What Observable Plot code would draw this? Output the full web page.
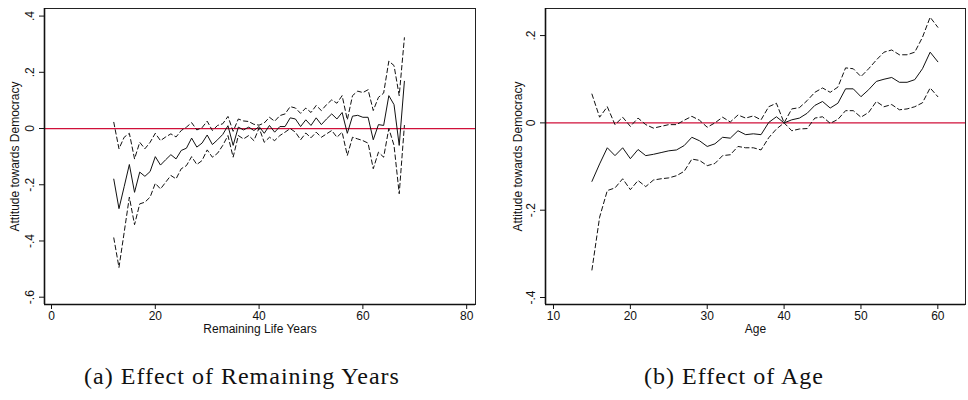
<!DOCTYPE html>
<html>
<head>
<meta charset="utf-8">
<script src="https://cdn.jsdelivr.net/npm/d3@7"></script>
<script src="https://cdn.jsdelivr.net/npm/@observablehq/plot@0.6"></script>
<style>
  html, body { margin: 0; padding: 0; background: #fff; }
  #root { position: relative; width: 968px; height: 400px; overflow: hidden; background: #fff; }
  .panel { position: absolute; top: 0; }
  .cap { position: absolute; top: 363px; font-family: "Liberation Serif", "DejaVu Serif", serif; font-size: 24px; letter-spacing: 1px; color: #111; white-space: nowrap; transform: translateX(-50%); }
</style>
</head>
<body>
<div id="root">
  <div id="left" class="panel" style="left:0px"></div>
  <div id="right" class="panel" style="left:484px"></div>
  <div class="cap" id="capA" style="left:242px"></div>
  <div class="cap" id="capB" style="left:734px"></div>
</div>
<script>
// ---------- Panel (a): Remaining life years ----------
const remYears = [12,13,14,15,16,17,18,19,20,21,22,23,24,25,26,27,28,29,30,31,32,33,34,35,36,37,38,39,40,41,42,43,44,45,46,47,48,49,50,51,52,53,54,55,56,57,58,59,60,61,62,63,64,65,66,67,68];
const remMean = [-0.18,-0.285,-0.207,-0.128,-0.227,-0.155,-0.17,-0.153,-0.10,-0.13,-0.111,-0.093,-0.108,-0.078,-0.07,-0.034,-0.066,-0.052,-0.023,-0.057,-0.04,-0.021,0.01,-0.06,0.005,-0.005,0.005,-0.007,0.007,-0.017,0.011,-0.013,0.007,0.007,0.038,0.034,0.007,0.031,0.011,0.038,0.014,0.034,0.052,0.034,0.057,-0.017,0.044,0.047,0.04,0.04,-0.04,0.014,0.011,0.117,0.085,-0.06,0.168];
const remUpper = [0.022,-0.072,-0.031,-0.017,-0.108,-0.049,-0.072,-0.049,-0.017,-0.043,-0.03,-0.019,-0.03,-0.007,0.005,0.021,-0.005,0.003,0.026,-0.007,0.011,0.017,0.043,-0.01,0.034,0.027,0.025,0.015,0.012,0.02,0.04,0.026,0.046,0.052,0.078,0.073,0.054,0.073,0.057,0.082,0.064,0.085,0.102,0.09,0.117,0.031,0.117,0.133,0.128,0.138,0.064,0.111,0.126,0.24,0.224,0.117,0.323];
const remLower = [-0.389,-0.494,-0.37,-0.244,-0.342,-0.268,-0.262,-0.244,-0.195,-0.215,-0.191,-0.167,-0.179,-0.143,-0.132,-0.1,-0.128,-0.114,-0.076,-0.102,-0.088,-0.06,-0.025,-0.102,-0.025,-0.037,-0.025,-0.043,0.002,-0.049,-0.031,-0.043,-0.025,-0.013,0.0,-0.013,-0.04,-0.016,-0.033,-0.013,-0.031,-0.019,-0.007,-0.031,-0.013,-0.096,-0.031,-0.037,-0.043,-0.052,-0.143,-0.084,-0.102,0.0,-0.06,-0.232,0.011];
const remXTicks = [0,20,40,60,80];
const remYTicks = [-0.6,-0.4,-0.2,0,0.2,0.4];
const remYTickLabels = ["-.6","-.4","-.2","0",".2",".4"];

// ---------- Panel (b): Age ----------
const ages = [15,16,17,18,19,20,21,22,23,24,25,26,27,28,29,30,31,32,33,34,35,36,37,38,39,40,41,42,43,44,45,46,47,48,49,50,51,52,53,54,55,56,57,58,59,60];
const ageMean = [-0.134,-0.094,-0.057,-0.075,-0.057,-0.082,-0.061,-0.075,-0.072,-0.068,-0.064,-0.062,-0.052,-0.033,-0.041,-0.054,-0.048,-0.033,-0.035,-0.018,-0.027,-0.025,-0.027,0.001,0.014,0.0,0.007,0.011,0.022,0.04,0.049,0.034,0.045,0.078,0.078,0.06,0.076,0.095,0.1,0.104,0.093,0.093,0.099,0.124,0.162,0.14];
const ageUpper = [0.066,0.013,0.037,-0.004,0.013,-0.008,0.011,-0.004,-0.012,-0.008,-0.004,-0.004,0.006,0.015,0.006,-0.01,0.0,0.013,0.002,0.018,0.011,0.016,0.007,0.037,0.045,0.0,0.032,0.035,0.051,0.07,0.08,0.07,0.082,0.126,0.124,0.106,0.124,0.144,0.162,0.167,0.156,0.156,0.162,0.196,0.242,0.219];
const ageLower = [-0.337,-0.216,-0.155,-0.149,-0.128,-0.153,-0.132,-0.146,-0.131,-0.128,-0.126,-0.121,-0.111,-0.083,-0.086,-0.098,-0.093,-0.075,-0.073,-0.054,-0.057,-0.057,-0.062,-0.034,-0.014,0.0,-0.018,-0.014,-0.013,0.011,0.014,-0.001,0.008,0.028,0.028,0.013,0.024,0.049,0.037,0.042,0.03,0.032,0.037,0.046,0.08,0.06];
const ageXTicks = [10,20,30,40,50,60];
const ageYTicks = [-0.4,-0.2,0,0.2];
const ageYTickLabels = ["-.4","-.2","0",".2"];

const yTitle = "Attitude towards Democracy";
const captions = ["(a) Effect of Remaining Years", "(b) Effect of Age"];
const xTitles = ["Remaining Life Years", "Age"];

function panel({xs, mean, upper, lower, xTicks, yTicks, yLabels, xDomain, yDomain, marginLeft, marginRight, xTitle, tickDx, titleDx}) {
  const rows = xs.map((x, i) => ({x, mean: mean[i], upper: upper[i], lower: lower[i]}));
  const ticks = yTicks.map((v, i) => ({v, label: yLabels[i]}));
  const ff = "'Liberation Sans', Arial, sans-serif";
  return Plot.plot({
    width: 484,
    height: 345,
    marginTop: 8,
    marginBottom: 41,
    marginLeft,
    marginRight,
    style: {fontFamily: ff, fontSize: "12px", color: "#111", background: "white"},
    x: {domain: xDomain},
    y: {domain: yDomain},
    marks: [
      Plot.ruleY([0], {stroke: "#d0103a", strokeWidth: 1.3}),
      Plot.line(rows, {x: "x", y: "upper", stroke: "#111", strokeWidth: 1, strokeDasharray: "4.5,3"}),
      Plot.line(rows, {x: "x", y: "lower", stroke: "#111", strokeWidth: 1, strokeDasharray: "4.5,3"}),
      Plot.line(rows, {x: "x", y: "mean", stroke: "#111", strokeWidth: 1}),
      Plot.frame({stroke: "#222", strokeWidth: 1}),
      Plot.ruleX([xDomain[0]], {stroke: "#111", strokeWidth: 1.6}),
      Plot.ruleY([yDomain[0]], {stroke: "#111", strokeWidth: 1.6}),
      Plot.axisX({ticks: xTicks, tickSize: 5, tickPadding: 2, label: null, fontSize: 12, stroke: "#111", fontFamily: ff}),
      Plot.axisY({ticks: yTicks, tickSize: 5, tickFormat: () => "", label: null, stroke: "#111"}),
      Plot.text(ticks, {y: "v", text: "label", frameAnchor: "left", rotate: -90, dx: tickDx, textAnchor: "middle", fontSize: 12, fill: "#111", fontFamily: ff}),
      Plot.text([yTitle], {frameAnchor: "left", rotate: -90, dx: titleDx, textAnchor: "middle", fontSize: 12, fill: "#111", fontFamily: ff}),
      Plot.text([xTitle], {frameAnchor: "bottom", dy: 28, textAnchor: "middle", fontSize: 12, fill: "#111", fontFamily: ff})
    ]
  });
}

document.getElementById("left").append(panel({
  xs: remYears, mean: remMean, upper: remUpper, lower: remLower,
  xTicks: remXTicks, yTicks: remYTicks, yLabels: remYTickLabels,
  xDomain: [-1.35, 81.7], yDomain: [-0.626, 0.427],
  marginLeft: 44, marginRight: 9, xTitle: xTitles[0], tickDx: -14, titleDx: -29
}));
document.getElementById("right").append(panel({
  xs: ages, mean: ageMean, upper: ageUpper, lower: ageLower,
  xTicks: ageXTicks, yTicks: ageYTicks, yLabels: ageYTickLabels,
  xDomain: [8.96, 63.6], yDomain: [-0.416, 0.262],
  marginLeft: 61, marginRight: 3, xTitle: xTitles[1], tickDx: -14, titleDx: -27
}));
document.getElementById("capA").textContent = captions[0];
document.getElementById("capB").textContent = captions[1];
</script>
</body>
</html>
